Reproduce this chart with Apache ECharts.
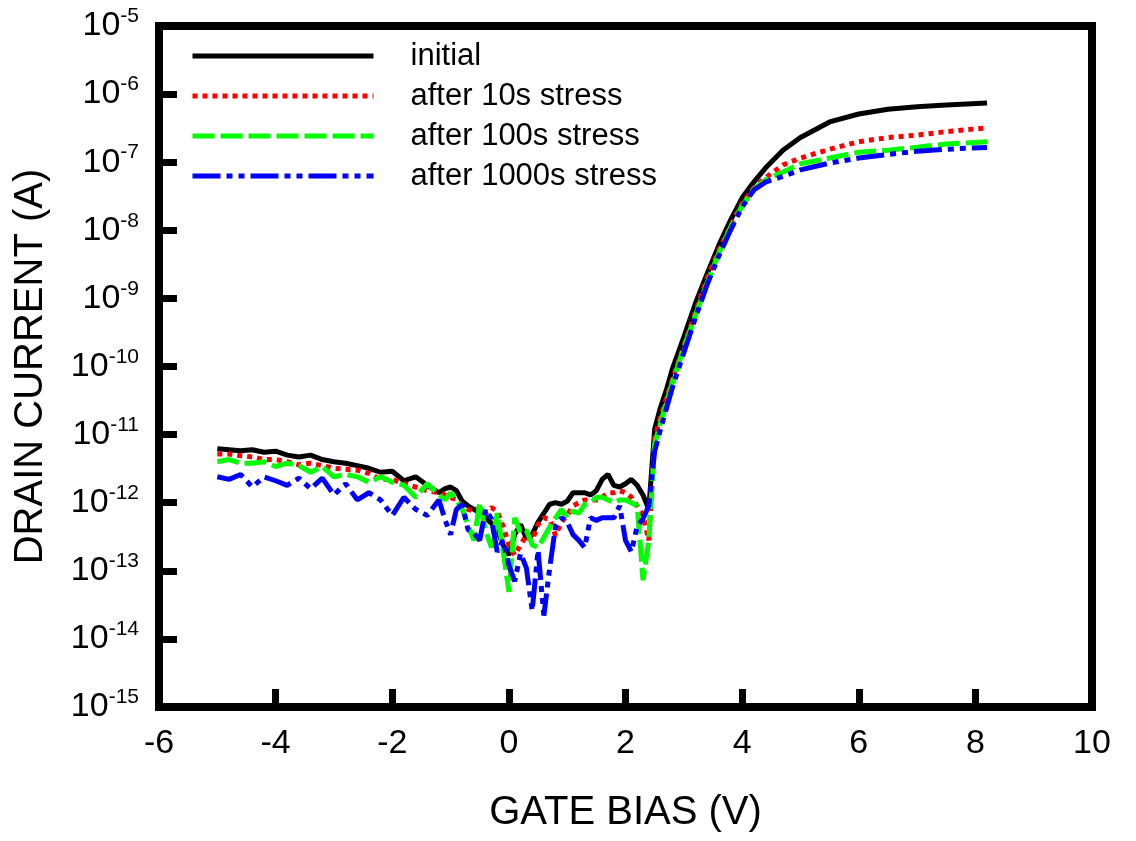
<!DOCTYPE html>
<html>
<head>
<meta charset="utf-8">
<title>Drain current vs gate bias</title>
<script src="https://cdn.jsdelivr.net/npm/echarts@6/dist/echarts.min.js"></script>
<style>
  html, body { margin: 0; padding: 0; background: #fff; }
  #chart { width: 1136px; height: 841px; }
</style>
</head>
<body>
<div id="chart"></div>
<script>
// gate bias (V)
let vg = [
  -5.0, -4.8, -4.6, -4.4, -4.2, -4.0, -3.8, -3.6, -3.4, -3.2,
  -3.0, -2.8, -2.6, -2.4, -2.2, -2.0, -1.8, -1.6, -1.4, -1.2,
  -1.1, -1.0, -0.9, -0.8, -0.7, -0.6, -0.5, -0.4, -0.3, -0.2,
  -0.1, 0.0, 0.1, 0.2, 0.3, 0.4, 0.5, 0.6, 0.7, 0.8,
  0.9, 1.0, 1.1, 1.2, 1.3, 1.4, 1.5, 1.6, 1.7, 1.8,
  1.9, 2.0, 2.1, 2.2, 2.3, 2.4, 2.5, 2.6, 2.7, 2.8,
  3.0, 3.2, 3.4, 3.6, 3.8, 4.0, 4.2, 4.4, 4.7, 5.0,
  5.5, 6.0, 6.5, 7.0, 7.5, 8.2
]

// drain current (A)
let initial = [
  6.2e-12, 6.0e-12, 5.8e-12, 6.0e-12, 5.5e-12, 5.7e-12, 5.0e-12, 4.7e-12, 5.0e-12, 4.3e-12,
  4.0e-12, 3.8e-12, 3.5e-12, 3.2e-12, 2.8e-12, 2.9e-12, 2.1e-12, 2.4e-12, 1.8e-12, 1.4e-12,
  1.6e-12, 1.7e-12, 1.5e-12, 1.05e-12, 9e-13, 8e-13, 7e-13, 6e-13, 5e-13, 4e-13,
  2.4e-13, 1.7e-13, 3.4e-13, 4.8e-13, 3.0e-13, 3.4e-13, 5.2e-13, 7e-13, 9.5e-13, 1.0e-12,
  9.5e-13, 1.05e-12, 1.4e-12, 1.4e-12, 1.4e-12, 1.3e-12, 1.5e-12, 2.2e-12, 2.6e-12, 1.8e-12,
  1.7e-12, 1.9e-12, 2.2e-12, 1.8e-12, 1.3e-12, 8e-13, 1.2e-11, 2.5e-11, 4.5e-11, 9e-11,
  2.7e-10, 8.5e-10, 2.3e-9, 6e-9, 1.4e-8, 3e-8, 5.1e-8, 8.2e-8, 1.5e-7, 2.3e-7,
  3.9e-7, 5.1e-7, 6.0e-7, 6.5e-7, 6.9e-7, 7.4e-7
]
let stress10 = [
  5.2e-12, 5.2e-12, 4.9e-12, 4.7e-12, 4.3e-12, 4.3e-12, 4.0e-12, 3.6e-12, 3.8e-12, 3.5e-12,
  3.2e-12, 3.1e-12, 3.0e-12, 2.7e-12, 2.2e-12, 2.2e-12, 1.9e-12, 1.7e-12, 1.5e-12, 1.4e-12,
  1.3e-12, 1.2e-12, 1.1e-12, 9e-13, 8e-13, 7.5e-13, 8.5e-13, 7e-13, 8.5e-13, 7.5e-13,
  4.5e-13, 2.4e-13, 1.7e-13, 2.4e-13, 3.3e-13, 2.8e-13, 4.8e-13, 6e-13, 5.7e-13, 3.3e-13,
  5.2e-13, 6.5e-13, 9e-13, 1e-12, 1.1e-12, 1.1e-12, 1.1e-12, 1.2e-12, 1.4e-12, 1.4e-12,
  1.5e-12, 1.4e-12, 1.2e-12, 9e-13, 6.5e-13, 2.8e-13, 9e-12, 1.8e-11, 3.4e-11, 6.3e-11,
  2.0e-10, 6.3e-10, 2.0e-9, 5.1e-9, 1.15e-8, 2.5e-8, 4.2e-8, 5.9e-8, 9.1e-8, 1.15e-7,
  1.55e-7, 2.0e-7, 2.3e-7, 2.5e-7, 2.8e-7, 3.2e-7
]
let stress100 = [
  4.0e-12, 4.3e-12, 3.8e-12, 3.8e-12, 4.0e-12, 3.4e-12, 3.8e-12, 3.5e-12, 2.8e-12, 3.4e-12,
  2.4e-12, 2.6e-12, 2.4e-12, 2.0e-12, 2.4e-12, 2.0e-12, 1.8e-12, 1.2e-12, 1.9e-12, 1.3e-12,
  1.1e-12, 1.4e-12, 1.1e-12, 8e-13, 4.7e-13, 2.8e-13, 1.0e-12, 3.9e-13, 2.2e-13, 7e-13,
  2.0e-13, 4.9e-14, 6e-13, 3.6e-13, 3.9e-13, 2.4e-13, 2.2e-13, 3.1e-13, 4.4e-13, 6e-13,
  8e-13, 6e-13, 7.5e-13, 7e-13, 9.5e-13, 1.0e-12, 1.2e-12, 1.2e-12, 1.1e-12, 1.0e-12,
  1.1e-12, 1.1e-12, 1.0e-12, 9e-13, 7.3e-14, 2.8e-13, 7.4e-12, 1.5e-11, 3.0e-11, 5.7e-11,
  1.9e-10, 5.7e-10, 1.7e-9, 4.6e-9, 1.1e-8, 2.3e-8, 4.0e-8, 5.5e-8, 7.2e-8, 9.5e-8,
  1.15e-7, 1.4e-7, 1.5e-7, 1.66e-7, 1.85e-7, 2.0e-7
]
let stress1000 = [
  2.4e-12, 2.2e-12, 2.6e-12, 1.7e-12, 2.4e-12, 2.1e-12, 1.8e-12, 2.3e-12, 1.6e-12, 2.3e-12,
  1.3e-12, 1.9e-12, 1.1e-12, 1.4e-12, 1.1e-12, 6.5e-13, 1.2e-12, 8e-13, 6.5e-13, 1.1e-12,
  5.8e-13, 3.4e-13, 8e-13, 9.5e-13, 4.0e-13, 3.6e-13, 2.8e-13, 8e-13, 5.8e-13, 1.9e-13,
  2.8e-13, 1.2e-13, 7e-14, 1.8e-13, 1.1e-13, 2.6e-14, 2.0e-13, 2.2e-14, 1.1e-13, 4.5e-13,
  6e-13, 5.2e-13, 3.4e-13, 2.8e-13, 2.2e-13, 6e-13, 5.5e-13, 6e-13, 6e-13, 6e-13,
  9e-13, 2.8e-13, 1.9e-13, 4.5e-13, 5.8e-13, 9e-13, 5.7e-12, 1.2e-11, 2.4e-11, 4.8e-11,
  1.6e-10, 5.2e-10, 1.6e-9, 4.2e-9, 1.0e-8, 2.2e-8, 3.9e-8, 5.1e-8, 6.2e-8, 7.7e-8,
  9.7e-8, 1.15e-7, 1.3e-7, 1.45e-7, 1.55e-7, 1.65e-7
]

let seriesNames = ['initial', 'after 10s stress', 'after 100s stress', 'after 1000s stress']
let seriesColors = ['#000000', '#ff0000', '#00ff00', '#0000ff']
let seriesDash = ['solid', [5, 5], [22, 6], [28, 6, 6, 6, 6, 6]]
let seriesValues = [initial, stress10, stress100, stress1000]

let font = 'Liberation Sans, Arial, Helvetica, sans-serif'

let myChart = echarts.init(document.getElementById('chart'))
myChart.setOption({
  animation: false,
  backgroundColor: '#fff',
  grid: {
    left: 159,
    right: 44,
    top: 26,
    bottom: 134,
    show: true,
    borderColor: '#000',
    borderWidth: 8
  },
  legend: {
    orient: 'vertical',
    left: 190,
    top: 40,
    padding: 0,
    itemWidth: 181,
    itemHeight: 14,
    itemGap: 8,
    selectedMode: false,
    data: seriesNames,
    // no symbol on the legend keys, only the line
    itemStyle: { color: 'rgba(0,0,0,0)', borderWidth: 0 },
    lineStyle: { width: 5 },
    textStyle: {
      fontFamily: font,
      fontSize: 31,
      lineHeight: 32,
      color: '#000',
      padding: [0, 0, 0, 32]
    }
  },
  xAxis: {
    type: 'value',
    min: -6,
    max: 10,
    interval: 2,
    name: 'GATE BIAS (V)',
    nameLocation: 'middle',
    nameGap: 86,
    nameTextStyle: { fontFamily: font, fontSize: 40, color: '#000' },
    axisLine: { onZero: false, lineStyle: { color: '#000', width: 8 } },
    axisTick: { inside: true, length: 18, lineStyle: { color: '#000', width: 7 } },
    axisLabel: { fontFamily: font, fontSize: 34, color: '#000', margin: 20 },
    splitLine: { show: false }
  },
  yAxis: {
    type: 'log',
    logBase: 10,
    min: 1e-15,
    max: 1e-5,
    interval: 1,
    name: 'DRAIN CURRENT (A)',
    nameLocation: 'middle',
    nameGap: 108,
    nameTextStyle: { fontFamily: font, fontSize: 40, color: '#000' },
    axisLine: { onZero: false, lineStyle: { color: '#000', width: 8 } },
    axisTick: { inside: true, length: 18, lineStyle: { color: '#000', width: 7 } },
    axisLabel: {
      margin: 20,
      formatter: function (v) {
        return '{b|10}{s|' + Math.round(Math.log10(v)) + '}'
      },
      rich: {
        b: { fontFamily: font, fontSize: 34, lineHeight: 40, color: '#000' },
        s: { fontFamily: font, fontSize: 21, lineHeight: 30, verticalAlign: 'top', color: '#000' }
      }
    },
    splitLine: { show: false }
  },
  series: seriesNames.map(function (name, k) {
    return {
      name: name,
      type: 'line',
      symbol: 'none',
      color: seriesColors[k],
      lineStyle: { color: seriesColors[k], width: 5, type: seriesDash[k] },
      data: vg.map(function (v, i) { return [v, seriesValues[k][i]] })
    }
  })
})
</script>
</body>
</html>
